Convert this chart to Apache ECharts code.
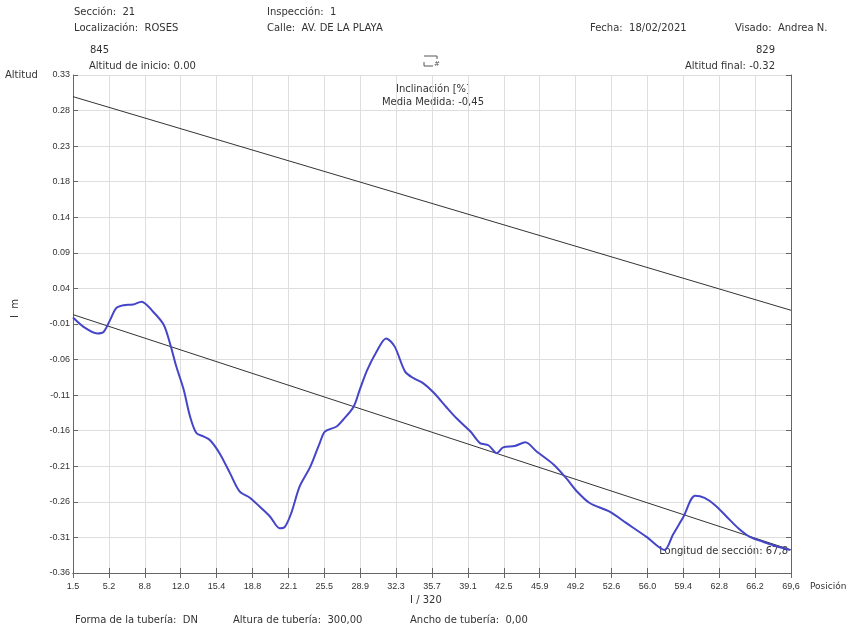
<!DOCTYPE html>
<html>
<head>
<meta charset="utf-8">
<script src="https://cdn.jsdelivr.net/npm/echarts@6/dist/echarts.min.js"></script>
<style>html,body{margin:0;padding:0;background:#fff}#c{width:855px;height:630px}</style>
</head>
<body>
<div id="c"></div>
<script>
// Tick labels as printed on the chart
const xTickLabels = ["1.5","5.2","8.8","12.0","15.4","18.8","22.1","25.5","28.9","32.3","35.7","39.1","42.5","45.9","49.2","52.6","56.0","59.4","62.8","66.2","69,6"];
const yTickLabels = ["-0.36","-0.31","-0.26","-0.21","-0.16","-0.11","-0.06","-0.01","0.04","0.09","0.14","0.18","0.23","0.28","0.33"];

// Measured profile (position in m, altitude in m)
const positions = [1.5,2.6,3.8,4.4,5.0,5.6,6.3,7.2,8.0,9.1,10.1,10.7,11.3,12.0,12.6,13.2,13.9,14.5,15.4,16.4,17.3,18.3,19.2,20.2,21.1,21.6,22.2,23.0,24.0,24.9,25.4,26.5,27.1,28.1,28.7,29.4,30.3,31.2,32.0,33.0,33.8,34.7,35.7,36.9,37.9,39.2,40.1,40.9,41.7,42.3,43.4,44.4,45.5,47.1,48.3,49.3,50.5,52.4,54.0,55.9,57.6,58.4,59.4,60.5,61.4,62.4,63.5,64.6,65.7,67.0,68.2,69.5];
const altitudes = [-0.006,-0.020,-0.028,-0.026,-0.010,0.007,0.011,0.012,0.016,0.002,-0.016,-0.042,-0.074,-0.106,-0.143,-0.166,-0.171,-0.176,-0.194,-0.222,-0.247,-0.256,-0.268,-0.282,-0.298,-0.296,-0.277,-0.240,-0.213,-0.180,-0.164,-0.157,-0.148,-0.130,-0.106,-0.079,-0.053,-0.035,-0.046,-0.081,-0.090,-0.097,-0.110,-0.130,-0.146,-0.164,-0.180,-0.183,-0.194,-0.186,-0.184,-0.179,-0.192,-0.210,-0.229,-0.247,-0.263,-0.275,-0.291,-0.310,-0.328,-0.307,-0.282,-0.253,-0.256,-0.266,-0.282,-0.298,-0.310,-0.317,-0.323,-0.328];

// Reference straight lines (start / end of section)
const linePositions = [1.5, 69.6];
const upperLine = [0.300, 0.004];
const lowerLine = [-0.002, -0.328];

const xMin = 1.5, xMax = 69.6, yMin = -0.36, yMax = 0.33;

const pair = (xs, ys) => xs.map((x, i) => [x, ys[i]]);

const font = '"DejaVu Sans", "Liberation Sans", Arial, sans-serif';
const tickFont = '"Liberation Sans", Arial, sans-serif';
const FONT = '10px ' + font;
const txt = (x, y, s) => ({
  type: 'text', left: x, top: y,
  style: { text: s, font: FONT, fill: '#333' }
});

const chart = echarts.init(document.getElementById('c'), null, { renderer: 'canvas' });
const axisLineStyle = { lineStyle: { color: '#666', width: 1 } };
const gridLine = { show: true, lineStyle: { color: '#dedede', width: 1 } };

chart.setOption({
  animation: false,
  backgroundColor: '#fff',
  grid: { left: 73, right: 64, top: 75, bottom: 57 },
  xAxis: [
    { type: 'value', min: xMin, max: xMax, show: false },
    { type: 'value', min: 0, max: 20, interval: 1, position: 'bottom',
      axisLine: axisLineStyle, axisTick: { inside: true, length: 5, lineStyle: { color: '#666' } },
      splitLine: gridLine,
      axisLabel: { margin: 9, fontSize: 9, color: '#333', fontFamily: tickFont,
        formatter: v => xTickLabels[Math.round(v)] || '' } },
    { type: 'value', min: 0, max: 20, interval: 1, position: 'top',
      axisLine: axisLineStyle, axisTick: { inside: true, length: 5, lineStyle: { color: '#666' } },
      splitLine: { show: false }, axisLabel: { show: false } }
  ],
  yAxis: [
    { type: 'value', min: yMin, max: yMax, show: false },
    { type: 'value', min: 0, max: 14, interval: 1, position: 'left',
      axisLine: Object.assign({ show: true }, axisLineStyle), axisTick: { show: true, inside: true, length: 5, lineStyle: { color: '#666' } },
      splitLine: gridLine,
      axisLabel: { margin: 3, fontSize: 9, color: '#333', fontFamily: tickFont,
        formatter: v => yTickLabels[Math.round(v)] || '' } },
    { type: 'value', min: 0, max: 14, interval: 1, position: 'right',
      axisLine: Object.assign({ show: true }, axisLineStyle), axisTick: { show: true, inside: true, length: 5, lineStyle: { color: '#666' } },
      splitLine: { show: false }, axisLabel: { show: false } }
  ],
  series: [
    { type: 'line', xAxisIndex: 0, yAxisIndex: 0, data: pair(linePositions, upperLine),
      symbol: 'none', lineStyle: { color: '#333', width: 1 }, z: 3 },
    { type: 'line', xAxisIndex: 0, yAxisIndex: 0, data: pair(linePositions, lowerLine),
      symbol: 'none', lineStyle: { color: '#333', width: 1 }, z: 3 },
    { type: 'line', xAxisIndex: 0, yAxisIndex: 0, data: pair(positions, altitudes),
      symbol: 'none', smooth: 0.3, lineStyle: { color: '#4545c8', width: 2 }, z: 4 }
  ],
  graphic: [
    txt(74, 7, 'Sección:  21'),
    txt(74, 23, 'Localización:  ROSES'),
    txt(267, 7, 'Inspección:  1'),
    txt(267, 23, 'Calle:  AV. DE LA PLAYA'),
    txt(590, 23, 'Fecha:  18/02/2021'),
    txt(735, 23, 'Visado:  Andrea N.'),
    txt(90, 45, '845'),
    txt(89, 61, 'Altitud de inicio: 0.00'),
    { type: 'text', right: 80, top: 45, style: { text: '829', font: FONT, fill: '#333' } },
    { type: 'text', right: 80, top: 61, style: { text: 'Altitud final: -0.32', font: FONT, fill: '#333' } },
    txt(5, 70, 'Altitud'),
    { type: 'text', x: 433, y: 84, style: { text: 'Inclinación [%]', font: FONT, fill: '#333', align: 'center', verticalAlign: 'top' } },
    { type: 'text', x: 433, y: 97, style: { text: 'Media Medida: -0,45', font: FONT, fill: '#333', align: 'center', verticalAlign: 'top' } },
    { type: 'text', right: 67, top: 546, style: { text: 'Longitud de sección: 67,8', font: FONT, fill: '#333' } },
    { type: 'text', left: 810, top: 582, style: { text: 'Posición', font: '9px ' + font, fill: '#333' } },
    txt(410, 595, 'I / 320'),
    txt(75, 615, 'Forma de la tubería:  DN'),
    txt(233, 615, 'Altura de tubería:  300,00'),
    txt(410, 615, 'Ancho de tubería:  0,00'),
    { type: 'text', x: 10, y: 318, rotation: Math.PI / 2,
      style: { text: 'I  m', font: FONT, fill: '#333' } },
    { type: 'polyline', shape: { points: [[424, 56], [437, 56], [437, 59]] }, style: { stroke: '#555', lineWidth: 1, fill: null } },
    { type: 'polyline', shape: { points: [[424, 62], [424, 66], [433, 66]] }, style: { stroke: '#555', lineWidth: 1, fill: null } },
    { type: 'text', left: 434, top: 61, style: { text: '#', font: '7px ' + font, fill: '#555' } }
  ]
});
</script>
</body>
</html>
